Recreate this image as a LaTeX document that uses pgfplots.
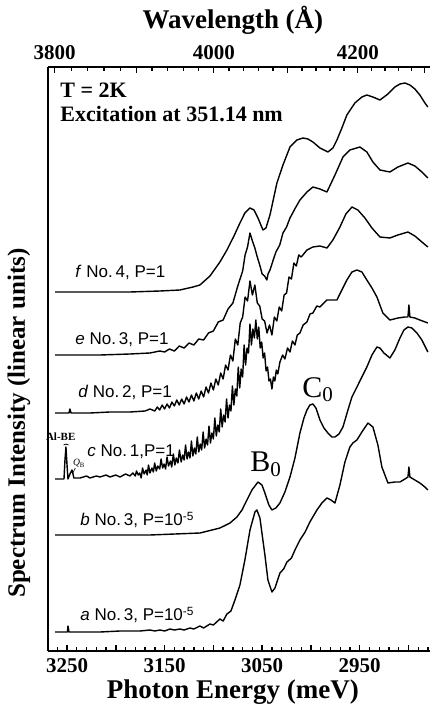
\documentclass[border=0pt]{standalone}
\usepackage{pgfplots}
\pgfplotsset{compat=1.18}
\usepackage{fontspec}
\setmainfont{Liberation Serif}
\newfontfamily\sansf{Liberation Sans}

\newcommand{\clab}[3]{{\sansf\fontsize{8.5}{10}\selectfont\textit{#1} No.\,#2, P=#3}}

\begin{document}
\begin{tikzpicture}
\path[use as bounding box] (0,0) rectangle (215pt,354pt);

% top axis: wavelength ticks placed at the matching photon energies
\begin{axis}[
  at={(24pt,28.5pt)}, anchor=south west,
  scale only axis, width=191pt, height=292pt,
  xmin=2878, xmax=3269.5, x dir=reverse,
  ymin=0, ymax=584,
  axis x line*=top, axis y line=none,
  axis line style={-, line width=1pt},
  tick align=inside,
  major tick length=3pt, minor tick length=1.8pt,
  tick style={black, line width=0.7pt},
  xtick={2883.35,2952.00,3024.00,3099.61,3179.08,3262.74},
  xticklabels={,4200,,4000,,3800},
  minor xtick={2896.83,2910.43,2924.15,2938.01,2966.13,2980.39,2994.79,3009.32,
    3038.83,3053.80,3068.92,3084.18,3115.18,3130.91,3146.81,3162.86,
    3195.47,3212.03,3228.76,3245.66},
  tick label style={font=\bfseries\fontsize{10.5}{12}\selectfont},
  clip=false,
]
\node[font=\bfseries\fontsize{13.5}{15}\selectfont] at (axis description cs:0.484,1.0805) {Wavelength (Å)};
\end{axis}

\begin{axis}[
  at={(24pt,28.5pt)}, anchor=south west,
  scale only axis, width=191pt, height=292pt,
  xmin=2878, xmax=3269.5, x dir=reverse,
  ymin=0, ymax=584,
  axis x line*=bottom, axis y line*=left,
  axis line style={-, line width=1pt},
  ytick=\empty,
  xtick={2900,2950,...,3250},
  xticklabels={,2950,,3050,,3150,,3250},
  minor xtick={2880,2890,...,3260},
  tick align=inside,
  major tick length=3pt, minor tick length=1.8pt,
  tick style={black, line width=0.7pt},
  tick label style={font=\bfseries\fontsize{10.5}{12}\selectfont},
  clip=false,
  cycle list={{black}},
  every axis plot/.append style={line width=0.7pt, line join=round, no marks},
]

% a  No. 3, P=1e-5
\addplot coordinates {(3262.3,19)(3251.1,19)(3249.6,19)(3249.0,25)(3248.0,19)(3236.7,19)(3216.2,19)
 (3195.7,20)(3175.2,20)(3165,21)(3160,20)(3154.7,21)(3150,20)(3144.5,22)(3140,21)(3134.3,22)
 (3130,21)(3124.0,23)(3120,22)(3113.8,25)(3110,23)(3103.5,27)(3100,26)(3093.3,32)(3090,30)
 (3086.1,37)(3082,40)(3077.9,51)(3072.8,66)(3067.7,91)(3062.5,121)(3057.4,139)(3055.4,141)
 (3052.3,133)(3047.2,96)(3044.1,71)(3040.0,59)(3036.9,63)(3031.8,78)(3028,82)(3024.6,89)
 (3020,93)(3016.4,101)(3011.3,111)(3006,119)(3001.1,129)(2993.9,141)(2988.8,148)(2983.6,153)
 (2979.5,151)(2975.4,148)(2970.3,166)(2965.2,189)(2960.1,204)(2957.0,208)(2952.9,211)
 (2947.8,219)(2941.6,228)(2936.5,224)(2931.4,206)(2927.3,184)(2921.1,168)(2914.0,169)
 (2908.8,169)(2903.7,172)(2900.6,174)(2899.6,184)(2898.6,174)(2893.5,171)(2888.4,168)
 (2883.2,164)(2880.2,161)};

% b  No. 3, P=1e-5
\addplot coordinates {(3262.3,116)(3216.2,116)(3165.0,116)(3113.8,118)(3093.3,123)(3083.0,128)
 (3075.9,134)(3070.7,141)(3065.6,151)(3060.5,161)(3054.3,169)(3050.2,166)(3047.2,158)
 (3043.1,146)(3040.0,141)(3035.9,143)(3031.8,148)(3026.7,159)(3021.5,174)(3016.4,193)
 (3011.3,218)(3007.2,233)(3004.1,241)(3001.1,246)(2998.0,247)(2994.9,243)(2990.8,231)
 (2986.7,223)(2982.6,218)(2978.5,214)(2975.4,214)(2971.3,217)(2967.2,224)(2962.1,241)
 (2958.0,254)(2952.9,264)(2947.8,274)(2942.7,284)(2937.5,296)(2932.4,304)(2929.3,303)
 (2925.2,298)(2919.1,293)(2914.0,301)(2908.8,313)(2904.7,321)(2900.6,324)(2896.5,323)
 (2891.4,318)(2886.3,311)(2880.2,299)};

% c  No. 1, P=1
\addplot coordinates {(3262.3,172)(3253.1,172)(3252.1,191)(3251.1,204)(3250.0,186)(3249.0,172)
 (3247.0,177)(3244.9,181)(3242.9,173)(3236.7,173)(3230,175)(3226.5,173)(3220,175)(3216.2,174)
 (3210,176)(3206.0,174)(3200,176)(3195.7,174)(3190,177)(3185.5,175)(3182.5,178)
 (3180,175)(3178.8,180)(3177,176)(3175.5,178)(3174,173)(3172.6,183)(3171,177)(3169,181)
 (3167.8,176)(3166.5,186)(3165,178)(3163,183)(3161.5,179)(3160.2,188)(3158.5,180)(3157,185)
 (3155,182)(3153.6,192)(3152,183)(3150.5,187)(3149,182)(3147.5,194)(3146,185)(3144,190)
 (3142.7,184)(3141,197)(3139.5,186)(3138,193)(3136.3,188)(3134.8,201)(3133,189)(3131.5,196)
 (3130,191)(3128.5,206)(3127,192)(3125.5,199)(3124,193)(3122.5,210)(3121,195)(3119.5,203)
 (3118,197)(3116.5,214)(3115,199)(3113.5,207)(3112,201)(3110.5,219)(3109,203)(3107.5,212)
 (3106,206)(3104.5,225)(3103,208)(3101.5,218)(3100,212)(3098.5,233)(3097,215)(3095.5,226)
 (3094,219)(3092.5,242)(3091,224)(3089.5,236)(3088,229)(3086.5,252)(3085,233)(3083.5,246)
 (3082,240)(3080.5,265)(3079,246)(3077.5,262)(3076,255)(3074.5,284)(3073,263)(3071.5,282)
 (3070,274)(3068.5,306)(3067,286)(3065.5,303)(3064,298)(3062.5,327)(3061,306)(3059.5,322)
 (3058,313)(3056.5,331)(3055,312)(3053.5,324)(3052,303)(3050.5,309)(3049,293)(3047.5,298)
 (3046,280)(3044.5,284)(3043,270)(3041.5,272)(3040,262)(3038.5,274)(3037,270)(3035.5,281)
 (3034,277)(3031.8,289)(3029,296)(3026.7,292)(3024,303)(3021.5,299)
 (3019,310)(3016.4,306)(3014,316)(3011.3,318)(3008,326)(3004.1,329)(3001,337)(2998,338)
 (2994,345)(2990.8,344)(2983.6,351)(2973.4,351)(2968.3,361)(2963.2,371)(2958.0,379)
 (2952.9,381)(2947.8,379)(2942.7,371)(2937.5,363)(2932.4,354)(2926.3,338)(2919.1,331)
 (2910.9,333)(2903.7,334)(2900.6,334)(2899.6,346)(2898.6,334)(2893.5,333)(2888.4,331)
 (2880.2,328)};

% d  No. 2, P=1
\addplot coordinates {(3262.3,238)(3248.0,238)(3247.0,242)(3245.9,238)(3226.5,238)(3206.0,239)
 (3185.5,239)(3170,240)(3165,242)
 (3160,240)(3157.5,244)(3155,241)(3152.5,246)(3150,242)(3147.5,247)(3145,243)(3142.5,249)
 (3140,245)(3137.5,251)(3135,246)(3132.5,252)(3130,247)(3127.5,254)(3125,249)(3122.5,256)
 (3120,250)(3117.5,258)(3115,252)(3112.5,260)(3110,254)(3107.5,264)(3105,258)(3102.5,268)
 (3100,261)(3097.5,272)(3095,266)(3092.5,278)(3090,272)(3087.5,286)(3085,281)(3082.5,296)
 (3080,290)(3077.5,312)(3075,306)(3072.5,328)(3070,334)(3067.5,354)(3065,350)(3062.5,370)
 (3060,356)(3057.5,366)(3055,348)(3052.5,345)(3050,332)(3047.5,330)(3045,318)(3042.5,326)
 (3040,316)(3037.5,334)(3035,330)(3032.5,344)(3030,340)(3027.5,356)(3025,358)(3022.5,374)
 (3020,372)(3017.5,388)(3015,385)(3012.5,396)(3010,394)
 (3004.1,401)(2998.0,404)(2990.8,405)(2983.6,403)(2977.5,411)(2970.3,424)(2964.2,437)
 (2958.0,444)(2951.9,441)(2944.7,433)(2937.5,423)(2929.3,414)(2919.1,413)(2910.9,416)
 (2900.6,419)(2893.5,415)(2886.3,409)(2880.2,404)};

% e  No. 3, P=1
\addplot coordinates {(3262.3,296)(3216.2,296)(3185.5,297)(3165,298)(3155,300)
 (3150,299)(3145,302)(3140,300)(3135,305)(3130,303)(3125,308)(3120,306)(3115,312)(3110,311)
 (3105,318)(3100,320)(3095,329)(3090,331)(3085,342)(3080,348)(3075,365)(3070,380)(3067.5,396)
 (3065,404)(3062.5,418)(3060,410)(3057.5,403)(3055,394)(3052.5,386)(3050,377)(3047.5,375)
 (3045.2,371)(3044,377)(3042,381)(3038,393)(3035.9,399)(3032,406)(3028.7,418)(3025,424)
 (3021.5,433)(3016,443)(3011.3,451)(3004.1,459)(2998.0,464)(2990.8,462)(2983.6,459)
 (2975.4,476)(2967.2,494)(2960.1,501)(2949.8,504)(2942.7,499)(2936.5,489)(2929.3,481)
 (2919.1,479)(2910.9,484)(2900.6,488)(2893.5,485)(2886.3,479)(2880.2,473)};

% f  No. 4, P=1
\addplot coordinates {(3262.3,359)(3216.2,359)(3185.5,359)(3154.7,360)(3134.3,361)(3120.9,364)
 (3113.8,366)(3103.5,375)(3093.3,389)(3086.1,401)(3078.9,415)(3072.8,428)(3067.7,438)
 (3062.5,443)(3058.4,441)(3054.3,433)(3049.2,421)(3046.1,423)(3042.0,436)(3034.9,468)
 (3028.7,486)(3021.5,504)(3014.4,511)(3008.2,513)(3003.1,512)(2998.0,509)(2990.8,503)
 (2982.6,499)(2977.5,503)(2973.4,511)(2968.3,523)(2963.2,536)(2955.0,548)(2947.8,554)
 (2942.7,556)(2936.5,554)(2929.3,551)(2921.1,557)(2914.0,564)(2908.8,567)(2903.7,568)
 (2898.6,566)(2893.5,562)(2888.4,556)(2883.2,548)(2880.2,544)};

% axis titles
\node[font=\bfseries\fontsize{13.5}{15}\selectfont] at (axis description cs:0.484,-0.0702) {Photon Energy (meV)};
\node[rotate=90, font=\bfseries\fontsize{12.5}{15}\selectfont] at (axis description cs:-0.076,0.39) {Spectrum Intensity (linear units)};

% labels
\begin{scope}[every node/.style={inner sep=0pt}]
\node[anchor=west] at (axis cs:3241.8,379) {\clab{f}{4}{1}};
\node[anchor=west] at (axis cs:3241.8,311) {\clab{e}{3}{1}};
\node[anchor=west] at (axis cs:3238.8,259) {\clab{d}{2}{1}};
\node[anchor=west] at (axis cs:3229.5,199) {{\sansf\fontsize{8.5}{10}\selectfont\textit{c} No.\,1,P=1}};
\node[anchor=west] at (axis cs:3236.7,131) {\clab{b}{3}{10\textsuperscript{-5}}};
\node[anchor=west] at (axis cs:3236.7,36) {\clab{a}{3}{10\textsuperscript{-5}}};

\node[font=\bfseries\fontsize{5.5}{6}\selectfont] at (axis cs:3256.5,214) {Al-BE};
\node[font=\fontsize{4.8}{5}\selectfont] at (axis cs:3237.5,188) {\textit{Q}\textsubscript{B}};

\node[anchor=base west, font=\fontsize{15}{17}\selectfont] at (axis cs:3062.5,179) {B\textsubscript{0}};
\node[anchor=base west, font=\fontsize{15}{17}\selectfont] at (axis cs:3009.3,254) {C\textsubscript{0}};

\node[anchor=west, font=\bfseries\fontsize{11}{13}\selectfont] at (axis cs:3257.2,561) {T = 2K};
\node[anchor=west, font=\bfseries\fontsize{11}{13}\selectfont] at (axis cs:3257.2,537) {Excitation at 351.14 nm};
\end{scope}
\draw[line width=0.4pt] (axis cs:3253.5,206) to[bend left=40] (axis cs:3248.5,206);
\draw[line width=0.3pt] (axis cs:3244,178) -- (axis cs:3241.5,183);

\end{axis}
\end{tikzpicture}
\end{document}
